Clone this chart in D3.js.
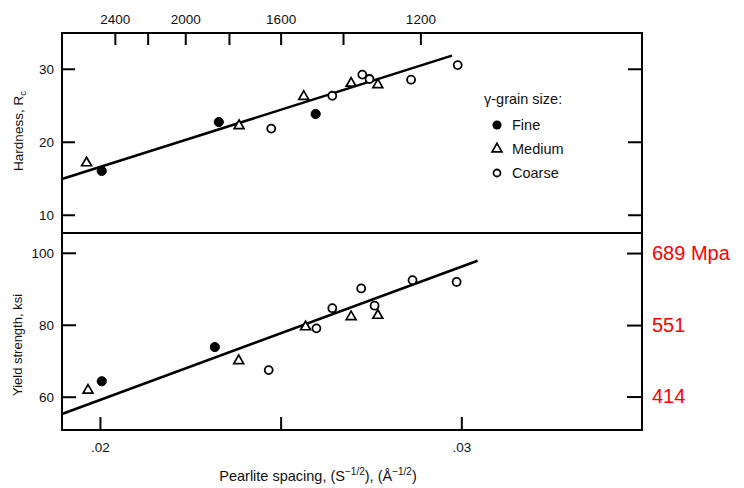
<!DOCTYPE html>
<html><head><meta charset="utf-8">
<script src="https://cdn.jsdelivr.net/npm/d3@7"></script>
<style>
html,body{margin:0;padding:0;background:#fff;}
text{font-family:"Liberation Sans",Arial,Helvetica,sans-serif;}
</style></head>
<body><svg id="c" width="744" height="488"></svg>
<script>
// ---------- data ----------
const hardFine   = [[0.02005,16.0],[0.02329,22.7],[0.02597,23.8]];
const hardMedium = [[0.01963,17.1],[0.02385,22.2],[0.02564,26.2],[0.02695,28.0],[0.02769,27.8]];
const hardCoarse = [[0.02474,21.8],[0.02643,26.3],[0.02726,29.2],[0.02746,28.6],[0.02861,28.5],[0.0299,30.5]];
const hardFit    = [[0.01895,14.9],[0.02974,31.8]];

const ysFine   = [[0.02005,64.3],[0.02318,73.8]];
const ysMedium = [[0.01967,61.8],[0.02384,70.0],[0.02569,79.4],[0.02695,82.2],[0.02769,82.6]];
const ysCoarse = [[0.02467,67.4],[0.02599,79.0],[0.02643,84.6],[0.02723,90.1],[0.0276,85.3],[0.02865,92.4],[0.02987,91.9]];
const ysFit    = [[0.01895,55.2],[0.03045,97.8]];

const topTicksS     = [2400,2200,2000,1800,1600,1400,1200];
const topLabelsS    = [2400,2000,1600,1200];
const bottomTicks   = [0.02,0.025,0.03];
const bottomLabels  = [".02","",".03"];
const hardTicks     = [10,20,30];
const ysTicks       = [60,80,100];
const mpaTicks      = [414,551,689];
const mpaLabels     = ["414","551","689 Mpa"];
const legendItems   = ["Fine","Medium","Coarse"];

// ---------- layout ----------
const L=62, R=642, T=33, MID=233, B=430;
const svg=d3.select("#c");
const x=d3.scaleLinear().domain([0.01895,0.0350]).range([L,R]);
const yH=d3.scaleLinear().domain([7.5,34.9]).range([MID,T]);
const yY=d3.scaleLinear().domain([50.75,105.5]).range([B,MID]);
const yM=d3.scaleLinear().domain([50.75*6.895,105.5*6.895]).range([B,MID]);

const fs=13.5;
function styleAxis(g){
  g.select(".domain").remove();
  g.selectAll(".tick line").attr("stroke","#000").attr("stroke-width",2);
  g.selectAll(".tick text").attr("font-size",fs).attr("fill","#111")
   .style("font-family",'"Liberation Sans",Arial,sans-serif');
}

// top axis (spacing in Angstrom)
svg.append("g").attr("transform",`translate(0,${T})`)
  .call(d3.axisTop(x).tickValues(topTicksS.map(s=>1/Math.sqrt(s)))
    .tickSize(-12).tickPadding(9)
    .tickFormat(v=>{const s=Math.round(1/(v*v)/100)*100;return topLabelsS.includes(s)?String(s):"";}))
  .call(styleAxis);

// bottom axis
svg.append("g").attr("transform",`translate(0,${B})`)
  .call(d3.axisBottom(x).tickValues(bottomTicks).tickSize(-13).tickPadding(12)
    .tickFormat((d,i)=>bottomLabels[i]))
  .call(styleAxis);

// left axes
svg.append("g").attr("transform",`translate(${L},0)`)
  .call(d3.axisLeft(yH).tickValues(hardTicks).tickSize(-13).tickPadding(8))
  .call(styleAxis);
svg.append("g").attr("transform",`translate(${L},0)`)
  .call(d3.axisLeft(yY).tickValues(ysTicks).tickSize(-14).tickPadding(8))
  .call(styleAxis);

// right axes
svg.append("g").attr("transform",`translate(${R},0)`)
  .call(d3.axisRight(yH).tickValues(hardTicks).tickSize(-14).tickFormat(""))
  .call(styleAxis);
const rm=svg.append("g").attr("transform",`translate(${R},0)`)
  .call(d3.axisRight(yM).tickValues(mpaTicks).tickSize(-15).tickPadding(10)
    .tickFormat((d,i)=>mpaLabels[i]))
  .call(styleAxis);
rm.selectAll(".tick text").attr("font-size",20).attr("fill","#ff0000").attr("x",10);

// frame
svg.append("rect").attr("x",L).attr("y",T).attr("width",R-L).attr("height",B-T)
  .attr("fill","none").attr("stroke","#000").attr("stroke-width",2);
svg.append("line").attr("x1",L).attr("x2",R).attr("y1",MID).attr("y2",MID)
  .attr("stroke","#000").attr("stroke-width",2);

// fit lines
const lineH=d3.line().x(d=>x(d[0])).y(d=>yH(d[1]));
const lineY=d3.line().x(d=>x(d[0])).y(d=>yY(d[1]));
svg.append("path").attr("d",lineH(hardFit)).attr("stroke","#000").attr("stroke-width",2.6).attr("fill","none");
svg.append("path").attr("d",lineY(ysFit)).attr("stroke","#000").attr("stroke-width",2.6).attr("fill","none");

// markers
const tri=d3.symbol().type(d3.symbolTriangle).size(42);
function drawSet(data,ys,kind){
  const g=svg.append("g");
  if(kind==="tri"){
    g.selectAll("path").data(data).join("path").attr("d",tri)
     .attr("transform",d=>`translate(${x(d[0])},${ys(d[1])})`)
     .attr("fill","#fff").attr("stroke","#000").attr("stroke-width",1.7);
  } else {
    g.selectAll("circle").data(data).join("circle")
     .attr("cx",d=>x(d[0])).attr("cy",d=>ys(d[1])).attr("r",kind==="fill"?4.6:4)
     .attr("fill",kind==="fill"?"#000":"#fff").attr("stroke","#000").attr("stroke-width",kind==="fill"?1:1.8);
  }
}
drawSet(hardCoarse,yH,"open");
drawSet(hardMedium,yH,"tri");
drawSet(hardFine,yH,"fill");
drawSet(ysCoarse,yY,"open");
drawSet(ysMedium,yY,"tri");
drawSet(ysFine,yY,"fill");

// legend
const lg=svg.append("g");
lg.append("text").attr("x",484).attr("y",104).attr("font-size",14.5).attr("fill","#111").text("\u03b3-grain size:");
const kinds=["fill","tri","open"];
legendItems.forEach((t,i)=>{
  const cy=125+i*24;
  if(kinds[i]==="fill") lg.append("circle").attr("cx",497).attr("cy",cy).attr("r",4.6).attr("fill","#000");
  else if(kinds[i]==="tri") lg.append("path").attr("d",tri).attr("transform",`translate(497,${cy})`).attr("fill","#fff").attr("stroke","#000").attr("stroke-width",1.7);
  else lg.append("circle").attr("cx",497).attr("cy",cy).attr("r",3.5).attr("fill","#fff").attr("stroke","#000").attr("stroke-width",1.8);
  lg.append("text").attr("x",512).attr("y",cy+5).attr("font-size",14.5).attr("fill","#111").text(t);
});

// axis titles
const hT=svg.append("text").attr("transform","translate(23,131) rotate(-90)").attr("text-anchor","middle")
  .attr("font-size",13.5).attr("fill","#111");
hT.append("tspan").text("Hardness, R");
hT.append("tspan").attr("font-size",9.5).attr("dy",3).text("c");

svg.append("text").attr("transform","translate(22,345) rotate(-90)").attr("text-anchor","middle")
  .attr("font-size",13).attr("fill","#111").text("Yield strength, ksi");

const xt=svg.append("text").attr("x",318).attr("y",481).attr("text-anchor","middle").attr("font-size",14.5).attr("fill","#111");
xt.append("tspan").text("Pearlite spacing, (S");
xt.append("tspan").attr("font-size",10).attr("dy",-6).text("\u22121/2");
xt.append("tspan").attr("dy",6).text("), (\u00c5");
xt.append("tspan").attr("font-size",10).attr("dy",-6).text("\u22121/2");
xt.append("tspan").attr("dy",6).text(")");
</script></body></html>
